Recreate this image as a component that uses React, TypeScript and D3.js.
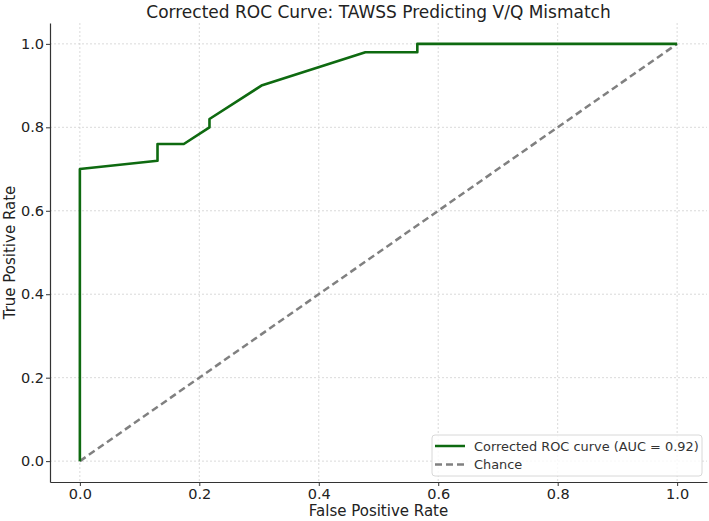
import React, { useEffect, useRef } from 'react';
import * as d3 from 'd3';

// ROC curve points (false positive rate, true positive rate)
const fpr = [0, 0, 0.13, 0.13, 0.174, 0.217, 0.217, 0.304, 0.478, 0.565, 0.565, 1];
const tpr = [0, 0.70, 0.72, 0.76, 0.76, 0.80, 0.82, 0.90, 0.98, 0.98, 1.0, 1.0];
const chance = [0, 1];
const ticks = [0, 0.2, 0.4, 0.6, 0.8, 1.0];
const curveLabel = 'Corrected ROC curve (AUC = 0.92)';
const chanceLabel = 'Chance';

const App = () => {
  const ref = useRef<SVGSVGElement>(null);

  useEffect(() => {
    const W = 709, H = 521;
    const margin = { top: 23, right: 2, bottom: 39, left: 50 };
    const width = W - margin.left - margin.right;
    const height = H - margin.top - margin.bottom;
    const font = 'DejaVu Sans, sans-serif';

    const root = d3.select(ref.current);
    root.selectAll('*').remove();
    root.append('rect').attr('width', W).attr('height', H).attr('fill', '#fff');

    const svg = root.append('g')
      .attr('transform', 'translate(' + margin.left + ',' + margin.top + ')');

    const x = d3.scaleLinear().domain([-0.05, 1.05]).range([0, width]);
    const y = d3.scaleLinear().domain([-0.05, 1.05]).range([height, 0]);

    // grid
    svg.append('g').selectAll('line').data(ticks).enter().append('line')
      .attr('x1', d => x(d)).attr('x2', d => x(d))
      .attr('y1', 0).attr('y2', height)
      .attr('stroke', '#d0d0d0').attr('stroke-width', 0.8).attr('stroke-dasharray', '2,2');
    svg.append('g').selectAll('line').data(ticks).enter().append('line')
      .attr('y1', d => y(d)).attr('y2', d => y(d))
      .attr('x1', 0).attr('x2', width)
      .attr('stroke', '#d0d0d0').attr('stroke-width', 0.8).attr('stroke-dasharray', '2,2');

    // axes
    const xAxis = svg.append('g')
      .attr('transform', 'translate(0,' + height + ')')
      .call(d3.axisBottom(x).tickValues(ticks).tickFormat(d3.format('.1f')).tickSize(4).tickPadding(3).tickSizeOuter(0));
    const yAxis = svg.append('g')
      .call(d3.axisLeft(y).tickValues(ticks).tickFormat(d3.format('.1f')).tickSize(4).tickPadding(2).tickSizeOuter(0));
    [xAxis, yAxis].forEach(a => {
      a.selectAll('path').attr('stroke', '#333').attr('stroke-width', 1.2);
      a.selectAll('line').attr('stroke', '#333');
      a.selectAll('text').attr('font-family', font).attr('font-size', 14.5).attr('fill', '#222');
    });

    // chance line
    svg.append('path')
      .datum(chance)
      .attr('d', d3.line<number>().x(d => x(d)).y(d => y(d)))
      .attr('fill', 'none').attr('stroke', '#808080').attr('stroke-width', 2.5)
      .attr('stroke-dasharray', '7,4');

    // ROC curve
    svg.append('path')
      .datum(fpr.map((f, i) => [f, tpr[i]] as [number, number]))
      .attr('d', d3.line().x(d => x(d[0])).y(d => y(d[1])))
      .attr('fill', 'none').attr('stroke', '#0e6a10').attr('stroke-width', 2.6)
      .attr('stroke-linejoin', 'round');

    // title and labels
    root.append('text').attr('x', margin.left + width / 2).attr('y', 18)
      .attr('text-anchor', 'middle').attr('font-family', font).attr('font-size', 17)
      .attr('fill', '#222').text('Corrected ROC Curve: TAWSS Predicting V/Q Mismatch');
    root.append('text').attr('x', margin.left + width / 2).attr('y', 516)
      .attr('text-anchor', 'middle').attr('font-family', font).attr('font-size', 15)
      .attr('fill', '#222').text('False Positive Rate');
    root.append('text')
      .attr('transform', 'translate(15,' + (margin.top + height / 2) + ') rotate(-90)')
      .attr('text-anchor', 'middle').attr('font-family', font).attr('font-size', 15)
      .attr('fill', '#222').text('True Positive Rate');

    // legend
    const lg = svg.append('g').attr('transform', 'translate(' + (432 - margin.left) + ',' + (435 - margin.top) + ')');
    lg.append('rect').attr('width', 270).attr('height', 41).attr('rx', 3)
      .attr('fill', '#fff').attr('fill-opacity', 0.8).attr('stroke', '#d8d8d8');
    const items = [
      { label: curveLabel, color: '#0e6a10', dash: null },
      { label: chanceLabel, color: '#808080', dash: '7,4' },
    ];
    items.forEach((it, i) => {
      const yy = 11 + i * 18.6;
      lg.append('line').attr('x1', 3).attr('x2', 33).attr('y1', yy).attr('y2', yy)
        .attr('stroke', it.color).attr('stroke-width', 2.5)
        .attr('stroke-dasharray', it.dash);
      lg.append('text').attr('x', 42).attr('y', yy + 4.8)
        .attr('font-family', font).attr('font-size', 12.9).attr('fill', '#333').text(it.label);
    });
  }, []);

  return <svg ref={ref} width={709} height={521} style={{ position: 'absolute', left: 0, top: 0 }} />;
};

export default App;
